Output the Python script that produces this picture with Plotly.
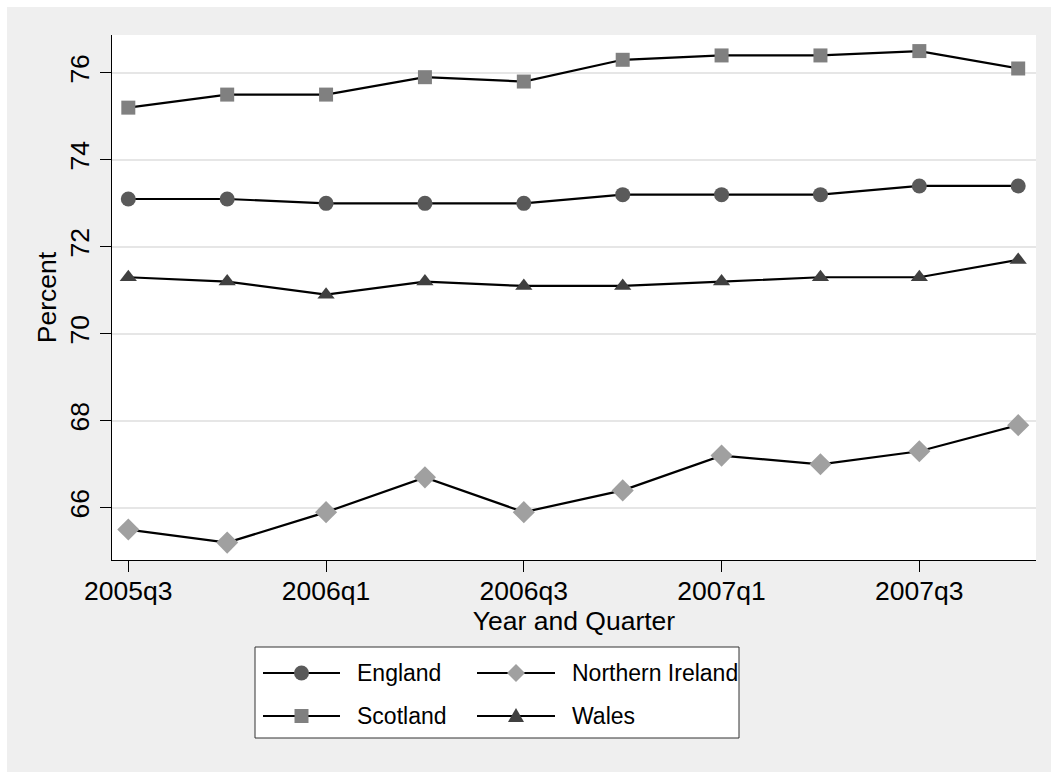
import plotly.graph_objects as go

# Quarterly employment rates by UK nation
quarters = ["2005q3", "2005q4", "2006q1", "2006q2", "2006q3",
            "2006q4", "2007q1", "2007q2", "2007q3", "2007q4"]
england = [73.1, 73.1, 73.0, 73.0, 73.0, 73.2, 73.2, 73.2, 73.4, 73.4]
scotland = [75.2, 75.5, 75.5, 75.9, 75.8, 76.3, 76.4, 76.4, 76.5, 76.1]
wales = [71.3, 71.2, 70.9, 71.2, 71.1, 71.1, 71.2, 71.3, 71.3, 71.7]
northern_ireland = [65.5, 65.2, 65.9, 66.7, 65.9, 66.4, 67.2, 67.0, 67.3, 67.9]

x_tick_labels = ["2005q3", "2006q1", "2006q3", "2007q1", "2007q3"]
y_ticks = [66, 68, 70, 72, 74, 76]

W, H = 1051, 772
L, R, T, B = 112, 15, 35, 212
PW, PH = W - L - R, H - T - B
FONT = "Liberation Sans, Arial, sans-serif"
AXIS_FONT = 26.5


def px(x):
    return (x - L) / PW


def py(y):
    return (H - B - y) / PH


series = [
    ("England", england, "circle", 15, "#5a5a5a"),
    ("Scotland", scotland, "square", 14, "#808080"),
    ("Northern Ireland", northern_ireland, "diamond", 17, "#a0a0a0"),
    ("Wales", wales, "triangle-up", 15, "#404040"),
]

fig = go.Figure()
for name, vals, sym, size, col in series:
    fig.add_trace(go.Scatter(
        x=quarters, y=vals, name=name, mode="lines+markers",
        line=dict(color="black", width=2.2),
        marker=dict(symbol=sym, size=size, color=col, line=dict(width=0)),
        showlegend=False,
    ))

shapes = []
annotations = []

# white strips along the top and left edges
shapes.append(dict(type="rect", xref="paper", yref="paper", layer="below",
                   x0=px(0), x1=px(7), y0=py(H), y1=py(0),
                   fillcolor="white", line=dict(width=0)))
shapes.append(dict(type="rect", xref="paper", yref="paper", layer="below",
                   x0=px(0), x1=px(W), y0=py(7), y1=py(0),
                   fillcolor="white", line=dict(width=0)))

# legend box
shapes.append(dict(type="rect", xref="paper", yref="paper",
                   x0=px(255), x1=px(739), y0=py(738), y1=py(647),
                   fillcolor="white", line=dict(color="#333333", width=1)))

legend_items = [
    ("England", "circle", "#5a5a5a", 263, 340, 673),
    ("Northern Ireland", "diamond", "#a0a0a0", 477, 555, 673),
    ("Scotland", "square", "#808080", 263, 340, 716),
    ("Wales", "triangle", "#404040", 477, 555, 716),
]
for label, sym, col, lx0, lx1, ly in legend_items:
    shapes.append(dict(type="line", xref="paper", yref="paper",
                       x0=px(lx0), x1=px(lx1), y0=py(ly), y1=py(ly),
                       line=dict(color="black", width=2.2)))
    cx, cy = px((lx0 + lx1) / 2), py(ly)
    common = dict(xref="paper", yref="paper", xsizemode="pixel",
                  ysizemode="pixel", xanchor=cx, yanchor=cy,
                  fillcolor=col, line=dict(width=0))
    if sym == "circle":
        shapes.append(dict(type="circle", x0=-7.5, x1=7.5, y0=-7.5, y1=7.5,
                           **common))
    elif sym == "square":
        shapes.append(dict(type="rect", x0=-7, x1=7, y0=-7, y1=7, **common))
    elif sym == "diamond":
        shapes.append(dict(type="path", path="M0,9 L9,0 L0,-9 L-9,0 Z",
                           **common))
    else:
        shapes.append(dict(type="path", path="M-8,-6 L8,-6 L0,8 Z",
                           **common))
    annotations.append(dict(xref="paper", yref="paper",
                            x=px((lx1 + 15)), y=py(ly),
                            xanchor="left", yanchor="middle",
                            text=label, showarrow=False,
                            font=dict(family=FONT, size=23, color="black")))

fig.update_layout(
    width=W, height=H,
    margin=dict(l=L, r=R, t=T, b=B, pad=0),
    paper_bgcolor="#efefef",
    plot_bgcolor="white",
    font=dict(family=FONT, size=AXIS_FONT, color="black"),
    shapes=shapes,
    annotations=annotations,
    showlegend=False,
)

fig.update_xaxes(
    type="category",
    range=[-0.165, 9.18],
    tickmode="array", tickvals=x_tick_labels, ticktext=x_tick_labels,
    ticks="outside", ticklen=11, tickwidth=1.3, tickcolor="black",
    ticklabelstandoff=-4,
    showline=True, linecolor="black", linewidth=1.3,
    showgrid=False, zeroline=False,
    tickfont=dict(family=FONT, size=AXIS_FONT, color="black"),
    title=dict(text="Year and Quarter", standoff=0,
               font=dict(family=FONT, size=AXIS_FONT, color="black")),
)
fig.update_yaxes(
    range=[64.8, 76.87],
    tickmode="array", tickvals=y_ticks,
    tickangle=-90,
    ticks="outside", ticklen=11, tickwidth=1.3, tickcolor="black",
    showline=True, linecolor="black", linewidth=1.3,
    showgrid=True, gridcolor="#e6e6e6", gridwidth=2,
    zeroline=False,
    tickfont=dict(family=FONT, size=AXIS_FONT, color="black"),
    title=dict(text="Percent", standoff=0,
               font=dict(family=FONT, size=AXIS_FONT, color="black")),
)

fig.write_html("out.html")
